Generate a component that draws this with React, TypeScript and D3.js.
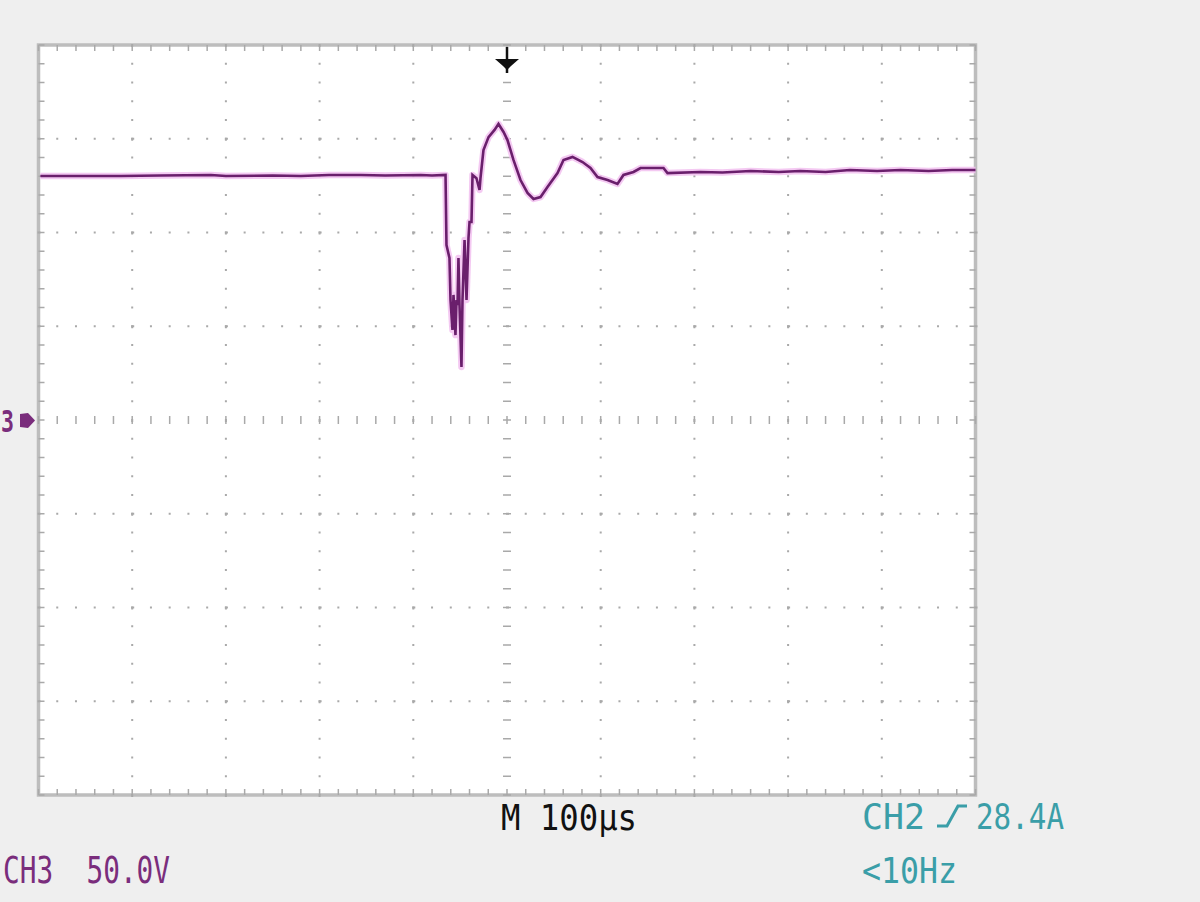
import React from "react";
import * as d3 from "d3";

// Time axis: µs relative to trigger (10 divisions × 100 µs)
const timeDomain = [-500, 500];
// Voltage axis: CH3 50 V/div, 8 divisions
const voltDomain = [-200, 200];

// CH3 trace, time in µs
const traceTime = [
  -498, -460, -412, -370, -316, -300, -250, -220, -190, -156, -130, -92, -80, -65.6,
  -64.6, -61.4, -60.3, -58.2, -57.1, -55, -53.9, -52.8, -51.8, -50.7, -48.6, -47.5, -45.3, -43.2,
  -41.1, -40, -37.9, -36.8, -32.6, -29.3, -28.3, -25.1, -19.7, -13.3, -9.1, -3.7, 0.5, 6.9,
  14.4, 21.9, 28.3, 35.8, 43.2, 53.9, 60.3, 69.9, 80.6, 89.1, 96.6, 107.3, 117.9, 124.3,
  135, 142.5, 167, 171.3, 206.5, 230, 260, 290, 313, 340, 366, 395, 420, 450, 475, 500,
];
// CH3 trace, volts
const traceVolt = [
  130.1, 130.1, 130.1, 130.4, 130.7, 130.1, 130.4, 130.1, 130.7, 130.7, 130.4, 130.7, 130.4, 130.7,
  93.3, 86.4, 64, 48, 66.7, 45.3, 64, 61.3, 86.4, 61.3, 28.3, 64, 96, 64,
  97.1, 105.6, 105.6, 130.7, 129, 122.7, 129, 144, 150.9, 154.7, 157.9, 153.6, 149.3, 138.7,
  128, 121.1, 117.9, 118.9, 124.3, 131.7, 138.7, 140.3, 137.6, 134.4, 129.6, 128, 125.9, 130.7,
  132.3, 134.4, 134.4, 131.7, 132.3, 132.0, 132.8, 132.3, 132.8, 132.3, 133.3, 132.8, 133.3, 132.8, 133.3, 133.3,
];

const labelTimebase = "M 100µs";
const labelTrigger = ["CH2", "28.4A"];
const labelTrigFreq = "<10Hz";
const labelCh3 = "CH3  50.0V";
const labelMarker = "3";

export default function App() {
  const W = 1200;
  const H = 902;
  const x = d3.scaleLinear().domain(timeDomain).range([38.5, 975.5]);
  const y = d3.scaleLinear().domain(voltDomain).range([795, 45]);

  const majorX = d3.range(-500, 501, 100);
  const majorY = d3.range(-200, 201, 50);
  const minorX = d3.range(-500, 501, 20);
  const minorY = d3.range(-200, 201, 10);

  const pts: [number, number][] = traceTime.map((t, i) => [t, traceVolt[i]]);
  const line = d3
    .line<[number, number]>()
    .x((d) => x(d[0]))
    .y((d) => y(d[1]))
    .curve(d3.curveLinear);
  const pathD = line(pts) || "";

  const gridColor = "#a9a9a9";
  const dots: JSX.Element[] = [];
  majorX.slice(1, -1).forEach((t) => {
    if (t === 0) return;
    minorY.forEach((v) => {
      dots.push(
        <rect key={`vx${t}_${v}`} x={x(t) - 1} y={y(v) - 1} width={2} height={v % 50 === 0 ? 3 : 2} fill={gridColor} />
      );
    });
  });
  majorY.slice(1, -1).forEach((v) => {
    if (v === 0) return;
    minorX.forEach((t) => {
      dots.push(
        <rect key={`hy${v}_${t}`} x={x(t) - 1} y={y(v) - 1} width={t % 100 === 0 ? 3 : 2} height={2} fill={gridColor} />
      );
    });
  });
  const center: JSX.Element[] = [];
  minorY.forEach((v) => {
    center.push(
      <line key={`cy${v}`} x1={x(0) - 4} x2={x(0) + 4} y1={y(v)} y2={y(v)} stroke={gridColor} strokeWidth={1.5} />
    );
  });
  minorX.forEach((t) => {
    center.push(
      <line key={`cx${t}`} x1={x(t)} x2={x(t)} y1={y(0) - 4} y2={y(0) + 4} stroke={gridColor} strokeWidth={1.5} />
    );
  });
  const border: JSX.Element[] = [];
  minorX.forEach((t) => {
    border.push(
      <line key={`bt${t}`} x1={x(t)} x2={x(t)} y1={y(200)} y2={y(200) + 6} stroke={gridColor} strokeWidth={1.5} />,
      <line key={`bb${t}`} x1={x(t)} x2={x(t)} y1={y(-200)} y2={y(-200) - 6} stroke={gridColor} strokeWidth={1.5} />
    );
  });
  minorY.forEach((v) => {
    border.push(
      <line key={`bl${v}`} x1={x(-500)} x2={x(-500) + 6} y1={y(v)} y2={y(v)} stroke={gridColor} strokeWidth={1.5} />,
      <line key={`br${v}`} x1={x(500)} x2={x(500) - 6} y1={y(v)} y2={y(v)} stroke={gridColor} strokeWidth={1.5} />
    );
  });

  const font = "'DejaVu Sans Mono', monospace";
  const cx = x(0);
  const teal = "#3a9ea8";
  const purple = "#7a2d7c";

  return (
    <svg width={W} height={H} style={{ position: "absolute", left: 0, top: 0, display: "block" }}>
      <rect x={0} y={0} width={W} height={H} fill="#efefef" />
      <rect x={x(-500)} y={y(200)} width={x(500) - x(-500)} height={y(-200) - y(200)} fill="#ffffff" stroke="#bdbdbd" strokeWidth={3.5} />
      {dots}
      {center}
      {border}
      <path d={pathD} fill="none" stroke="#f2c0f0" strokeWidth={6.5} strokeLinejoin="round" opacity={0.85} />
      <path d={pathD} fill="none" stroke="#6a1f6c" strokeWidth={2.6} strokeLinejoin="miter" />
      <line x1={cx} x2={cx} y1={47} y2={73} stroke="#111" strokeWidth={2.5} />
      <path d={`M${cx - 12},59 L${cx + 12},59 L${cx + 4},66 L${cx},70 L${cx - 4},66 Z`} fill="#111" />
      <text x={1} y={432} fontFamily={font} fontWeight="bold" fontSize={30} fill={purple} textLength={13} lengthAdjust="spacingAndGlyphs">
        {labelMarker}
      </text>
      <path d={`M20,414 L28,413 L35,420.5 L28,428 L20,427 Z`} fill={purple} />
      <text x={501} y={830} fontFamily={font} fontSize={36} fill="#111" textLength={136} lengthAdjust="spacingAndGlyphs">
        {labelTimebase}
      </text>
      <text x={862} y={829} fontFamily={font} fontSize={35} fill={teal} textLength={63} lengthAdjust="spacingAndGlyphs">
        {labelTrigger[0]}
      </text>
      <path d="M937,826 L947,826 L958,806 L967,806" fill="none" stroke={teal} strokeWidth={3} />
      <text x={976} y={829} fontFamily={font} fontSize={35} fill={teal} textLength={88} lengthAdjust="spacingAndGlyphs">
        {labelTrigger[1]}
      </text>
      <text x={862} y={883} fontFamily={font} fontSize={35} fill={teal} textLength={95} lengthAdjust="spacingAndGlyphs">
        {labelTrigFreq}
      </text>
      <text x={3} y={883} fontFamily={font} fontSize={37} fill={purple} textLength={167} lengthAdjust="spacingAndGlyphs" style={{ whiteSpace: "pre" }}>
        {labelCh3}
      </text>
    </svg>
  );
}
